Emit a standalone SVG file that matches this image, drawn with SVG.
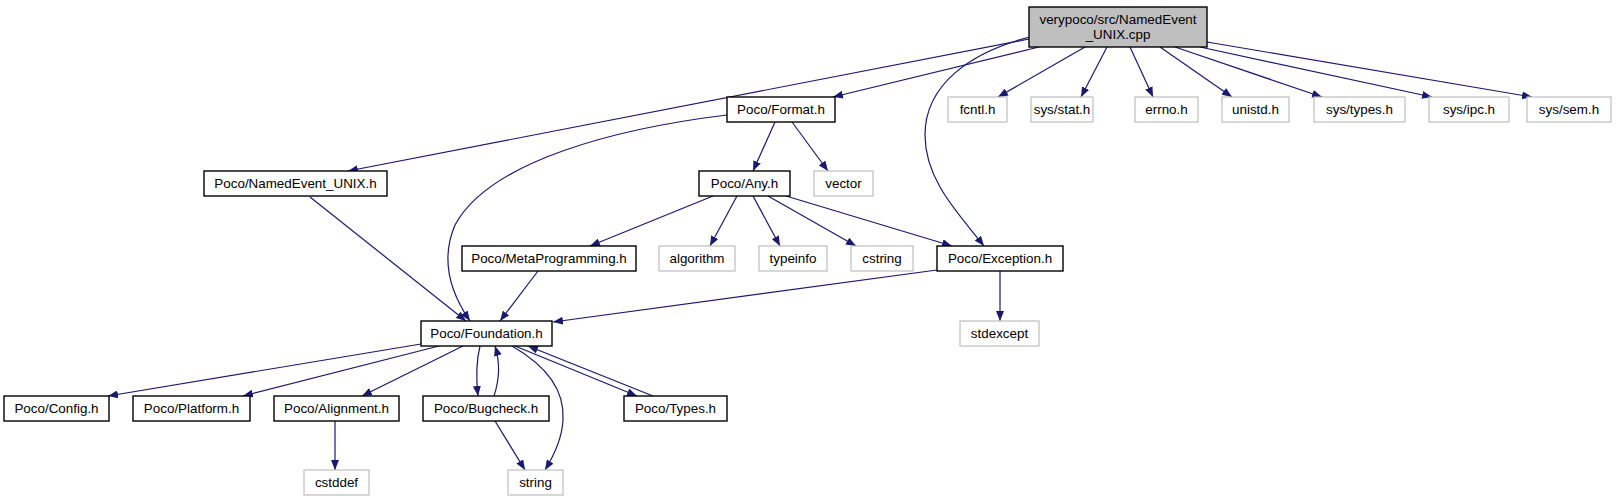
<svg xmlns="http://www.w3.org/2000/svg" width="1616" height="501" viewBox="0 0 1616 501">
<style>
.n rect{fill:#ffffff;stroke:#000000;stroke-width:1.4}
.x rect{fill:#ffffff;stroke:#bfbfbf;stroke-width:1.2}
.r rect{fill:#bfbfbf;stroke:#000000;stroke-width:1.4}
text{font-family:"Liberation Sans",Arial,sans-serif;font-size:13.4px;fill:#000000;text-anchor:middle}
#edges path{fill:none;stroke:#191970;stroke-width:1.2;marker-end:url(#arr)}
</style>
<defs>
<marker id="arr" markerUnits="userSpaceOnUse" markerWidth="11" markerHeight="8" refX="10" refY="4" orient="auto">
<path d="M0,0 L10,4 L0,8 z" fill="#191970"/>
</marker>
</defs>
<rect width="1616" height="501" fill="#ffffff"/>
<g id="edges">
<path d="M1029,39 L348,171"/>
<path d="M1039,47 L833,97"/>
<path d="M1085,47 L998,97"/>
<path d="M1107,47 L1081,97"/>
<path d="M1130,47 L1153,97"/>
<path d="M1160,47 L1232,97"/>
<path d="M1175,47 L1322,97"/>
<path d="M1200,47 L1432,97"/>
<path d="M1207,42 L1532,97"/>
<path d="M1030,37 C970,52 925,85 925,135 C925,180 958,213 984,246"/>
<path d="M727,115 C620,128 490,160 455,225 C440,260 450,292 470,321"/>
<path d="M775,122 L753,171"/>
<path d="M792,122 L828,171"/>
<path d="M713,196 L590,246"/>
<path d="M737,196 L710,246"/>
<path d="M753,196 L780,246"/>
<path d="M768,196 L856,246"/>
<path d="M786,196 L952,246"/>
<path d="M310,197 L466,321"/>
<path d="M538,271 L500,321"/>
<path d="M937,270 L553,322"/>
<path d="M1000,271 L1000,321"/>
<path d="M421,344 L108,396"/>
<path d="M439,346 L243,396"/>
<path d="M463,346 L362,396"/>
<path d="M480,346 C476,362 476,378 478,396"/>
<path d="M494,396 C500,378 500,362 495,346"/>
<path d="M512,346 C545,365 565,390 563,420 C562,440 553,457 545,470"/>
<path d="M495,421 L525,470"/>
<path d="M515,346 L637,396"/>
<path d="M653,396 L528,346"/>
<path d="M335,421 L335,470"/>
</g>
<g id="root" class="r"><rect x="1029" y="7" width="178" height="40"/><text x="1118" y="23.5">verypoco/src/NamedEvent</text><text x="1118" y="38.5">_UNIX.cpp</text></g>
<g id="format" class="n"><rect x="727" y="97" width="108" height="25"/><text x="781" y="114">Poco/Format.h</text></g>
<g id="fcntl" class="x"><rect x="948" y="97" width="59" height="25"/><text x="977.5" y="114">fcntl.h</text></g>
<g id="sysstat" class="x"><rect x="1031" y="97" width="62" height="25"/><text x="1062" y="114">sys/stat.h</text></g>
<g id="errno" class="x"><rect x="1135" y="97" width="63" height="25"/><text x="1166.5" y="114">errno.h</text></g>
<g id="unistd" class="x"><rect x="1222" y="97" width="67" height="25"/><text x="1255.5" y="114">unistd.h</text></g>
<g id="systypes" class="x"><rect x="1314" y="97" width="91" height="25"/><text x="1359.5" y="114">sys/types.h</text></g>
<g id="sysipc" class="x"><rect x="1429" y="97" width="80" height="25"/><text x="1469" y="114">sys/ipc.h</text></g>
<g id="syssem" class="x"><rect x="1527" y="97" width="84" height="25"/><text x="1569" y="114">sys/sem.h</text></g>
<g id="namedevent" class="n"><rect x="204" y="171" width="183" height="25"/><text x="295.5" y="188">Poco/NamedEvent_UNIX.h</text></g>
<g id="any" class="n"><rect x="699" y="171" width="91" height="25"/><text x="744.5" y="188">Poco/Any.h</text></g>
<g id="vector" class="x"><rect x="814" y="171" width="59" height="25"/><text x="843.5" y="188">vector</text></g>
<g id="meta" class="n"><rect x="462" y="246" width="174" height="25"/><text x="549" y="263">Poco/MetaProgramming.h</text></g>
<g id="algorithm" class="x"><rect x="659" y="246" width="76" height="25"/><text x="697" y="263">algorithm</text></g>
<g id="typeinfo" class="x"><rect x="759" y="246" width="68" height="25"/><text x="793" y="263">typeinfo</text></g>
<g id="cstring" class="x"><rect x="851" y="246" width="62" height="25"/><text x="882" y="263">cstring</text></g>
<g id="exception" class="n"><rect x="937" y="246" width="126" height="25"/><text x="1000" y="263">Poco/Exception.h</text></g>
<g id="foundation" class="n"><rect x="421" y="321" width="131" height="25"/><text x="486.5" y="338">Poco/Foundation.h</text></g>
<g id="stdexcept" class="x"><rect x="960" y="321" width="79" height="25"/><text x="999.5" y="338">stdexcept</text></g>
<g id="config" class="n"><rect x="4" y="396" width="105" height="25"/><text x="56.5" y="413">Poco/Config.h</text></g>
<g id="platform" class="n"><rect x="133" y="396" width="117" height="25"/><text x="191.5" y="413">Poco/Platform.h</text></g>
<g id="alignment" class="n"><rect x="274" y="396" width="125" height="25"/><text x="336.5" y="413">Poco/Alignment.h</text></g>
<g id="bugcheck" class="n"><rect x="423" y="396" width="126" height="25"/><text x="486" y="413">Poco/Bugcheck.h</text></g>
<g id="types" class="n"><rect x="624" y="396" width="103" height="25"/><text x="675.5" y="413">Poco/Types.h</text></g>
<g id="cstddef" class="x"><rect x="304" y="470" width="65" height="25"/><text x="336.5" y="487">cstddef</text></g>
<g id="string" class="x"><rect x="508" y="470" width="55" height="25"/><text x="535.5" y="487">string</text></g>
</svg>
